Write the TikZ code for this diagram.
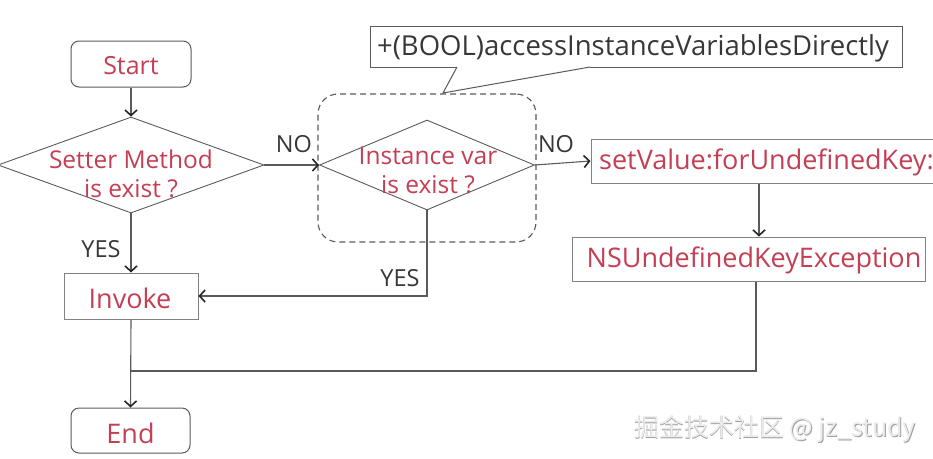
\documentclass[tikz,border=0pt]{standalone}
\usepackage{fontspec}
\setmainfont{Open Sans}
\newfontfamily\cjk{Noto Sans CJK SC}
\usetikzlibrary{arrows.meta,shapes.geometric,calc}
\definecolor{txtred}{RGB}{196,62,84}
\definecolor{txtgray}{RGB}{55,55,55}
\definecolor{linegray}{RGB}{90,90,90}
\definecolor{boxgray}{RGB}{130,130,130}
\tikzset{
  x=1pt,y=-1pt,
  every node/.style={font=\fontsize{27}{29}\selectfont},
  redtxt/.style={text=txtred, align=center, inner sep=0},
  dtxt/.style={redtxt, font=\fontsize{24.5}{29}\selectfont},
  lbl/.style={text=txtgray, inner sep=0, font=\fontsize{23.5}{25}\selectfont},
  procbox/.style={draw=boxgray, line width=1pt, inner sep=0},
  termbox/.style={draw=linegray, line width=1pt, rounded corners=8pt, inner sep=0},
  decbox/.style={draw=linegray, line width=0.9pt, diamond, inner sep=0},
  conn/.style={draw=linegray, line width=1.1pt},
  arr/.style={conn, -{Straight Barb[length=5.5pt,width=12pt,line width=1.6pt,color=black!85]}},
  wmfont/.style={inner sep=0, font=\cjk\fontsize{25}{26}\selectfont}
}
\begin{document}
\begin{tikzpicture}
\useasboundingbox (0,0) rectangle (933,458);
% nodes
\node[termbox, minimum width=120, minimum height=46] (start) at (131,64) {};
\node[redtxt, font=\fontsize{25}{29}\selectfont] (starttxt) at (131,66) {Start};
\node[decbox, minimum width=266, minimum height=96] (d1) at (131,165) {};
\node[dtxt] (d1txt) at (131,174) {Setter Method\\is exist ?};
\node[draw=linegray, dash pattern=on 6pt off 4pt, line width=1.1pt, rounded corners=20pt, minimum width=218, minimum height=148] (dash) at (427,168) {};
\node[decbox, minimum width=215, minimum height=90] (d2) at (427,165) {};
\node[dtxt] (d2txt) at (428,170) {Instance var\\is exist ?};
\node[procbox, minimum width=354, minimum height=44] (sv) at (768,161) {};
\node[redtxt, anchor=west] (svtxt) at (599,162) {setValue:forUndefinedKey:};
\node[procbox, minimum width=353, minimum height=44] (nsu) at (748.5,259) {};
\node[redtxt] (nsutxt) at (754,260) {NSUndefinedKeyException};
\node[procbox, minimum width=134, minimum height=46] (inv) at (131,296) {};
\node[redtxt] (invtxt) at (130,298) {Invoke};
\node[termbox, minimum width=119, minimum height=45] (end) at (130.5,430.5) {};
\node[redtxt] (endtxt) at (130.5,433) {End};
% callout
\coordinate (cw) at (370,26);
\coordinate (ce) at (902,67);
\coordinate (tipA) at (457,67);
\coordinate (tip) at (443,93);
\coordinate (tipB) at (590,67);
\draw[draw=linegray, line width=1pt, fill=white] (tipA) -- (tip) -- (tipB);
\draw[draw=linegray, line width=1pt] (tipA) -- (cw |- ce) -- (cw) -- (ce |- cw) -- (ce) -- (tipB);
\node[text=txtgray, inner sep=0, font=\fontsize{27.5}{29}\selectfont] (calltxt) at (633,48) {+(BOOL)accessInstanceVariablesDirectly};
% connectors
\draw[arr] (start.south) -- (d1.north);
\draw[arr] (d1.east) -- (d2.west);
\draw[arr] (d2.east) -- (sv.west);
\draw[arr] (d1.south) -- (inv.north);
\draw[arr] (d2.south) |- (inv.east);
\coordinate (ax) at (759,0);
\coordinate (bx) at (756,0);
\coordinate (j) at (131,371);
\draw[arr] (sv.south -| ax) -- (nsu.north -| ax);
\draw[conn] (nsu.south -| bx) |- (j);
\draw[arr] (inv.south) -- (end.north);
% labels
\node[lbl] (no1) at (294,144) {NO};
\node[lbl] (no2) at (556,144) {NO};
\node[lbl] (yes1) at (101,249) {YES};
\node[lbl] (yes2) at (400,278) {YES};
% watermark
\node[wmfont, text=gray!75] (wm0) at (775.8,429.8) {掘金技术社区 @ jz\_study};
\node[wmfont, text=white!92!black] (wm) at (775,429) {掘金技术社区 @ jz\_study};
\end{tikzpicture}
\end{document}
